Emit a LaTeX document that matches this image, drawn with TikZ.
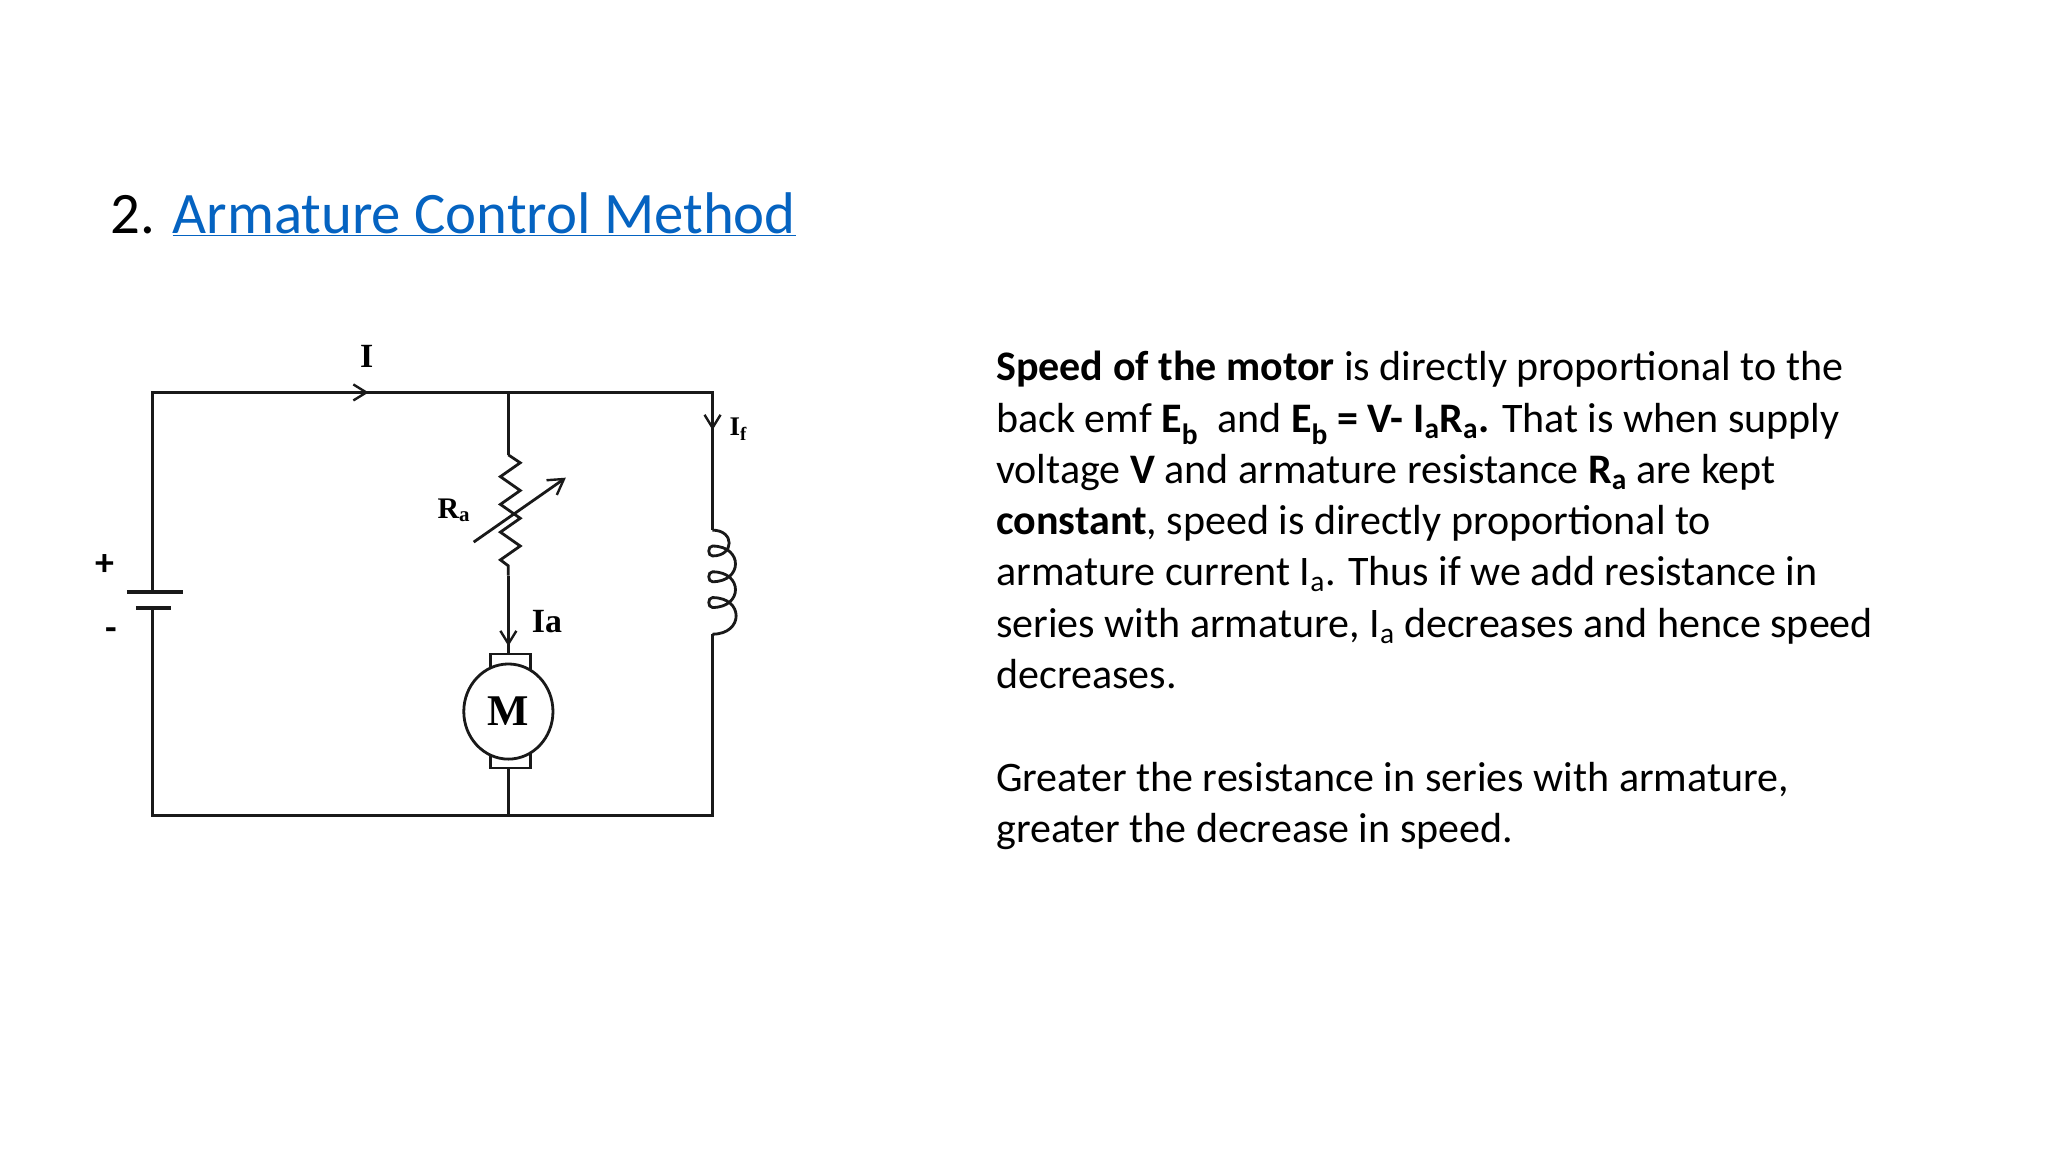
\documentclass[tikz,border=0pt]{standalone}
\usepackage{fontspec}
\setmainfont{Carlito}
\newfontfamily\serifc{Liberation Serif}
\usetikzlibrary{decorations.pathmorphing,arrows.meta}
\definecolor{linkblue}{HTML}{0563C1}
\begin{document}
\begin{tikzpicture}[x=1bp,y=-1bp,
  wire/.style={line width=2.8bp,black!90},
  lbl/.style={font=\serifc\bfseries\fontsize{34}{34}\selectfont,inner sep=0},
  curarrow/.style={-{Straight Barb[length=13bp,width=16bp,line width=2.4bp]}},
  body/.style={font=\fontsize{42.2}{51.5}\selectfont,align=left,anchor=north west,inner sep=0}]
\useasboundingbox[fill=white] (0,0) rectangle (2048,1152);
% title
\node[anchor=base west,inner sep=0,font=\fontsize{59}{59}\selectfont] (title) at (110,233)
  {2. \textcolor{linkblue}{\underline{Armature Control Method}}};
\begin{scope}[scale=0.991]
% circuit coordinates
\coordinate (tl) at (154,396); \coordinate (tm) at (513,396); \coordinate (tr) at (719,396);
\coordinate (bl) at (154,823); \coordinate (bm) at (513,823); \coordinate (br) at (719,823);
\coordinate (bat1) at (154,597); \coordinate (bat2) at (154,614);
\coordinate (rtop) at (513,459); \coordinate (rbot) at (513,581);
\coordinate (m1) at (513,660); \coordinate (m2) at (513,775);
\coordinate (ltop) at (719,535); \coordinate (lbot) at (719,640);
% wires
\draw[wire] (bat1) -- (tl) -- (tr) -- (ltop);
\draw[wire] (lbot) -- (br) -- (bl) -- (bat2);
\draw[wire] (tm) -- (rtop);
\draw[wire] (rtop) -- ++(12,8) -- ++(-20,14) -- ++(20,14) -- ++(-20,14) -- ++(20,14) -- ++(-20,14) -- ++(20,14) -- ++(-20,14) -- ++(8,6) -- (rbot);
\draw[wire] (rbot) -- (m1);
\draw[wire] (m2) -- (bm);
% battery
\draw[line width=4bp,black!90] (128,597) -- (185,597);
\draw[line width=4bp,black!90] (137,614) -- (173,614);
\node[font=\fontsize{38}{38}\selectfont\bfseries,inner sep=0] (plus) at (106,570) {+};
\node[font=\fontsize{38}{38}\selectfont\bfseries,inner sep=0] (minus) at (112,640) {-};
% current arrows
\draw[wire,curarrow] (300,396) -- (372,396);
\node[lbl] (I) at (370,360) {I};
\draw[wire,curarrow] (719,410) -- (719,434);
\node[lbl,font=\serifc\bfseries\fontsize{27}{27}\selectfont] (If) at (745,433) {I\textsubscript{f}};
\draw[wire,curarrow] (513,610) -- (513,652);
\node[lbl] (Ia) at (552,627) {Ia};
\node[lbl,font=\serifc\bfseries\fontsize{30}{30}\selectfont] (Ra) at (458,515) {R\textsubscript{a}};
% variable arrow
\draw[wire,-{Straight Barb[length=15bp,width=18bp,line width=2.4bp]}] (478,547) -- (571,482);
% motor
\draw[wire] (495,660) rectangle (535,676);
\draw[wire] (495,760) rectangle (535,775);
\draw[wire,fill=white] (513,718) ellipse (45 and 48);
\node[lbl,font=\serifc\bfseries\fontsize{44}{44}\selectfont] (M) at (513,718) {M};
% inductor
\draw[wire] (ltop) to[out=0,in=0,looseness=2.2] (719,561)
  to[out=180,in=180,looseness=1.3] (719,551)
  to[out=0,in=0,looseness=2.2] (719,587)
  to[out=180,in=180,looseness=1.3] (719,577)
  to[out=0,in=0,looseness=2.2] (719,613)
  to[out=180,in=180,looseness=1.3] (719,603)
  to[out=0,in=0,looseness=2.2] (lbot);
\end{scope}
% body text
\node[body] (txt) at (996,351) {%
\textbf{Speed of the motor} is directly proportional to the\\
back emf \textbf{E\textsubscript{b}}\ \ and \textbf{E\textsubscript{b} = V- I\textsubscript{a}R\textsubscript{a}.} That is when supply\\
voltage \textbf{V} and armature resistance \textbf{R\textsubscript{a}} are kept\\
\textbf{constant}, speed is directly proportional to\\
armature current I\textsubscript{a}. Thus if we add resistance in\\
series with armature, I\textsubscript{a} decreases and hence speed\\
decreases.\\[51.5bp]
Greater the resistance in series with armature,\\
greater the decrease in speed.};
\end{tikzpicture}
\end{document}
